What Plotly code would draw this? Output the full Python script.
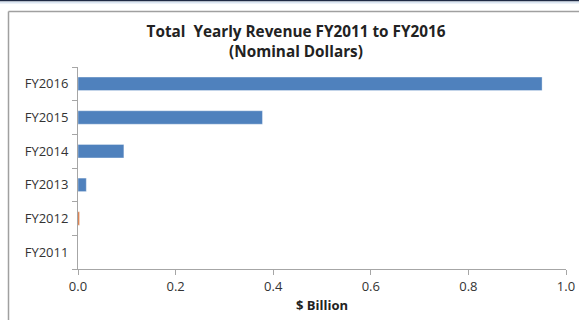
import plotly.graph_objects as go

categories = ["FY2011", "FY2012", "FY2013", "FY2014", "FY2015", "FY2016"]
revenue = [0.0, 0.003, 0.017, 0.094, 0.378, 0.951]
bar_colors = ["#4F81BD", "#D46A2E", "#4F81BD", "#4F81BD", "#4F81BD", "#4F81BD"]
x_ticks = [0.0, 0.2, 0.4, 0.6, 0.8, 1.0]
x_tick_labels = ["0.0", "0.2", "0.4", "0.6", "0.8", "1.0"]

W, H = 579, 320
L, R, T, B = 78, 13, 67, 51
pw, ph = W - L - R, H - T - B

def px(x):
    return (x - L) / pw

def py(y):
    return (H - B - y) / ph

fig = go.Figure()
fig.add_trace(go.Bar(
    x=revenue, y=categories, orientation="h",
    marker=dict(color=bar_colors, line=dict(color="rgba(255,255,255,0.35)", width=1)),
    width=0.4, showlegend=False,
))

font_family = "Open Sans, Liberation Sans, sans-serif"

fig.update_layout(
    width=W, height=H,
    margin=dict(l=L, r=R, t=T, b=B, autoexpand=False),
    paper_bgcolor="white", plot_bgcolor="white",
    font=dict(family=font_family, size=13, color="#333333"),
    title=dict(
        text="<b>Total  Yearly Revenue FY2011 to FY2016<br>(Nominal Dollars)</b>",
        x=296 / W, xanchor="center", y=1 - 37 / H, yanchor="top",
        font=dict(family=font_family, size=15.3, color="#222222"),
    ),
    xaxis=dict(
        range=[0, 1], tickvals=x_ticks, ticktext=x_tick_labels,
        showgrid=False, zeroline=False, automargin=False,
        showline=True, linecolor="#A6A6A6", linewidth=1,
        ticks="outside", ticklen=5, tickcolor="#A6A6A6",
        tickfont=dict(size=13, color="#333333"),
        title=dict(text="<b>$ Billion</b>", font=dict(size=13, color="#222222"), standoff=7),
        fixedrange=True,
    ),
    yaxis=dict(
        categoryorder="array", categoryarray=categories,
        showgrid=False, zeroline=False, automargin=False,
        showline=True, linecolor="#A6A6A6", linewidth=1,
        ticks="outside", ticklen=5, tickcolor="#A6A6A6", tickson="boundaries",
        tickfont=dict(size=13, color="#333333"),
        ticklabelstandoff=6,
        fixedrange=True,
    ),
    bargap=0.6,
)

# outer chart frame (left and top) and the dark strip at the top edge
fig.add_shape(type="line", xref="paper", yref="paper",
              x0=px(8.5), x1=px(W + 5), y0=py(11.5), y1=py(11.5),
              line=dict(color="#A0A0A0", width=1.5))
fig.add_shape(type="line", xref="paper", yref="paper",
              x0=px(8.5), x1=px(8.5), y0=py(11.5), y1=py(H + 5),
              line=dict(color="#A0A0A0", width=1.5))
fig.add_shape(type="rect", xref="paper", yref="paper",
              x0=px(-5), x1=px(W + 5), y0=py(-5), y1=py(1.5),
              line=dict(width=0), fillcolor="#1F2A44")
fig.add_shape(type="rect", xref="paper", yref="paper",
              x0=px(-5), x1=px(W + 5), y0=py(1.5), y1=py(3.5),
              line=dict(width=0), fillcolor="#DCE6F2")

fig.write_html("out.html")
